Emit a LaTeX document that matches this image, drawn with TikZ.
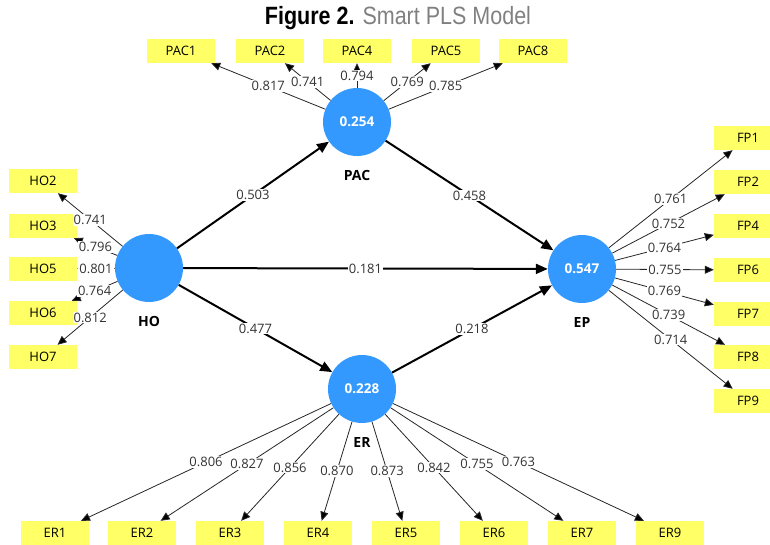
\documentclass[tikz,border=0pt]{standalone}
\usepackage{fontspec}
\setmainfont{Open Sans}
\newfontfamily\titlefont[FakeStretch=0.86]{Liberation Sans}
\usepackage{tikz}
\usetikzlibrary{arrows.meta,positioning}
\definecolor{lvblue}{RGB}{51,153,255}
\definecolor{mvyellow}{RGB}{255,255,102}
\definecolor{titlegray}{RGB}{128,128,128}
\tikzstyle{latent}=[circle,fill=lvblue,minimum size=68pt,inner sep=0pt,text=white,font=\fontsize{13.5}{15}\selectfont\bfseries]
\tikzstyle{lvname}=[font=\fontsize{14}{16}\selectfont\bfseries,label distance=11pt]
\tikzstyle{indicator}=[rectangle,fill=mvyellow,minimum width=68pt,minimum height=24pt,inner sep=0pt,font=\fontsize{13}{15}\selectfont]
\tikzstyle{loading}=[-{Triangle[length=9pt,width=8pt]},line width=0.8pt,draw=black!85]
\tikzstyle{structural}=[-{Triangle[length=12pt,width=10pt]},line width=2pt,draw=black]
\tikzstyle{coef}=[fill=white,inner sep=1pt,text=black!80,font=\fontsize{13}{15}\selectfont]

\begin{document}
\begin{tikzpicture}[x=1pt,y=-1pt]
    \useasboundingbox (0,0) rectangle (770,545);

    \node (title) at (398,18) {\titlefont\fontsize{25}{29}\selectfont\textbf{Figure 2.} \textcolor{titlegray}{Smart PLS Model}};

    % latent variables
    \node[latent, label={[lvname]below:HO}]  (HO)  at (149,268) {};
    \node[latent, label={[lvname]below:PAC}] (PAC) at (357,122) {0.254};
    \node[latent, label={[lvname]below:EP}]  (EP)  at (582,269) {0.547};
    \node[latent, label={[lvname]below:ER}]  (ER)  at (362,389) {0.228};

    % indicators
    \foreach \n/\x in {1/181,2/270,4/357,5/446,8/533}
        \node[indicator] (PAC\n) at (\x,51) {PAC\n};
    \foreach \n/\y in {2/181,3/226,5/269,6/313,7/357}
        \node[indicator] (HO\n) at (43,\y) {HO\n};
    \foreach \n/\y in {1/138,2/182,4/226,6/270,7/314,8/357,9/401}
        \node[indicator] (FP\n) at (748,\y) {FP\n};
    \foreach \n/\x in {1/55,2/142,3/230,4/318,5/406,6/494,7/582,9/670}
        \node[indicator] (ER\n) at (\x,533) {ER\n};

    % outer loadings
    \path[loading]
        (PAC) edge node[coef] {0.817} (PAC1)
              edge node[coef] {0.741} (PAC2)
              edge node[coef] {0.794} (PAC4)
              edge node[coef] {0.769} (PAC5)
              edge node[coef] {0.785} (PAC8)
        (HO)  edge node[coef] {0.741} (HO2)
              edge node[coef] {0.796} (HO3)
              edge node[coef] {0.801} (HO5)
              edge node[coef] {0.764} (HO6)
              edge node[coef] {0.812} (HO7)
        (EP)  edge node[coef] {0.761} (FP1)
              edge node[coef] {0.752} (FP2)
              edge node[coef] {0.764} (FP4)
              edge node[coef] {0.755} (FP6)
              edge node[coef] {0.769} (FP7)
              edge node[coef] {0.739} (FP8)
              edge node[coef] {0.714} (FP9)
        (ER)  edge node[coef] {0.806} (ER1)
              edge node[coef] {0.827} (ER2)
              edge node[coef] {0.856} (ER3)
              edge node[coef] {0.870} (ER4)
              edge node[coef] {0.873} (ER5)
              edge node[coef] {0.842} (ER6)
              edge node[coef] {0.755} (ER7)
              edge node[coef] {0.763} (ER9);

    % path coefficients
    \path[structural]
        (HO)  edge node[coef] {0.503} (PAC)
              edge node[coef] {0.181} (EP)
              edge node[coef] {0.477} (ER)
        (PAC) edge node[coef] {0.458} (EP)
        (ER)  edge node[coef] {0.218} (EP);
\end{tikzpicture}
\end{document}
